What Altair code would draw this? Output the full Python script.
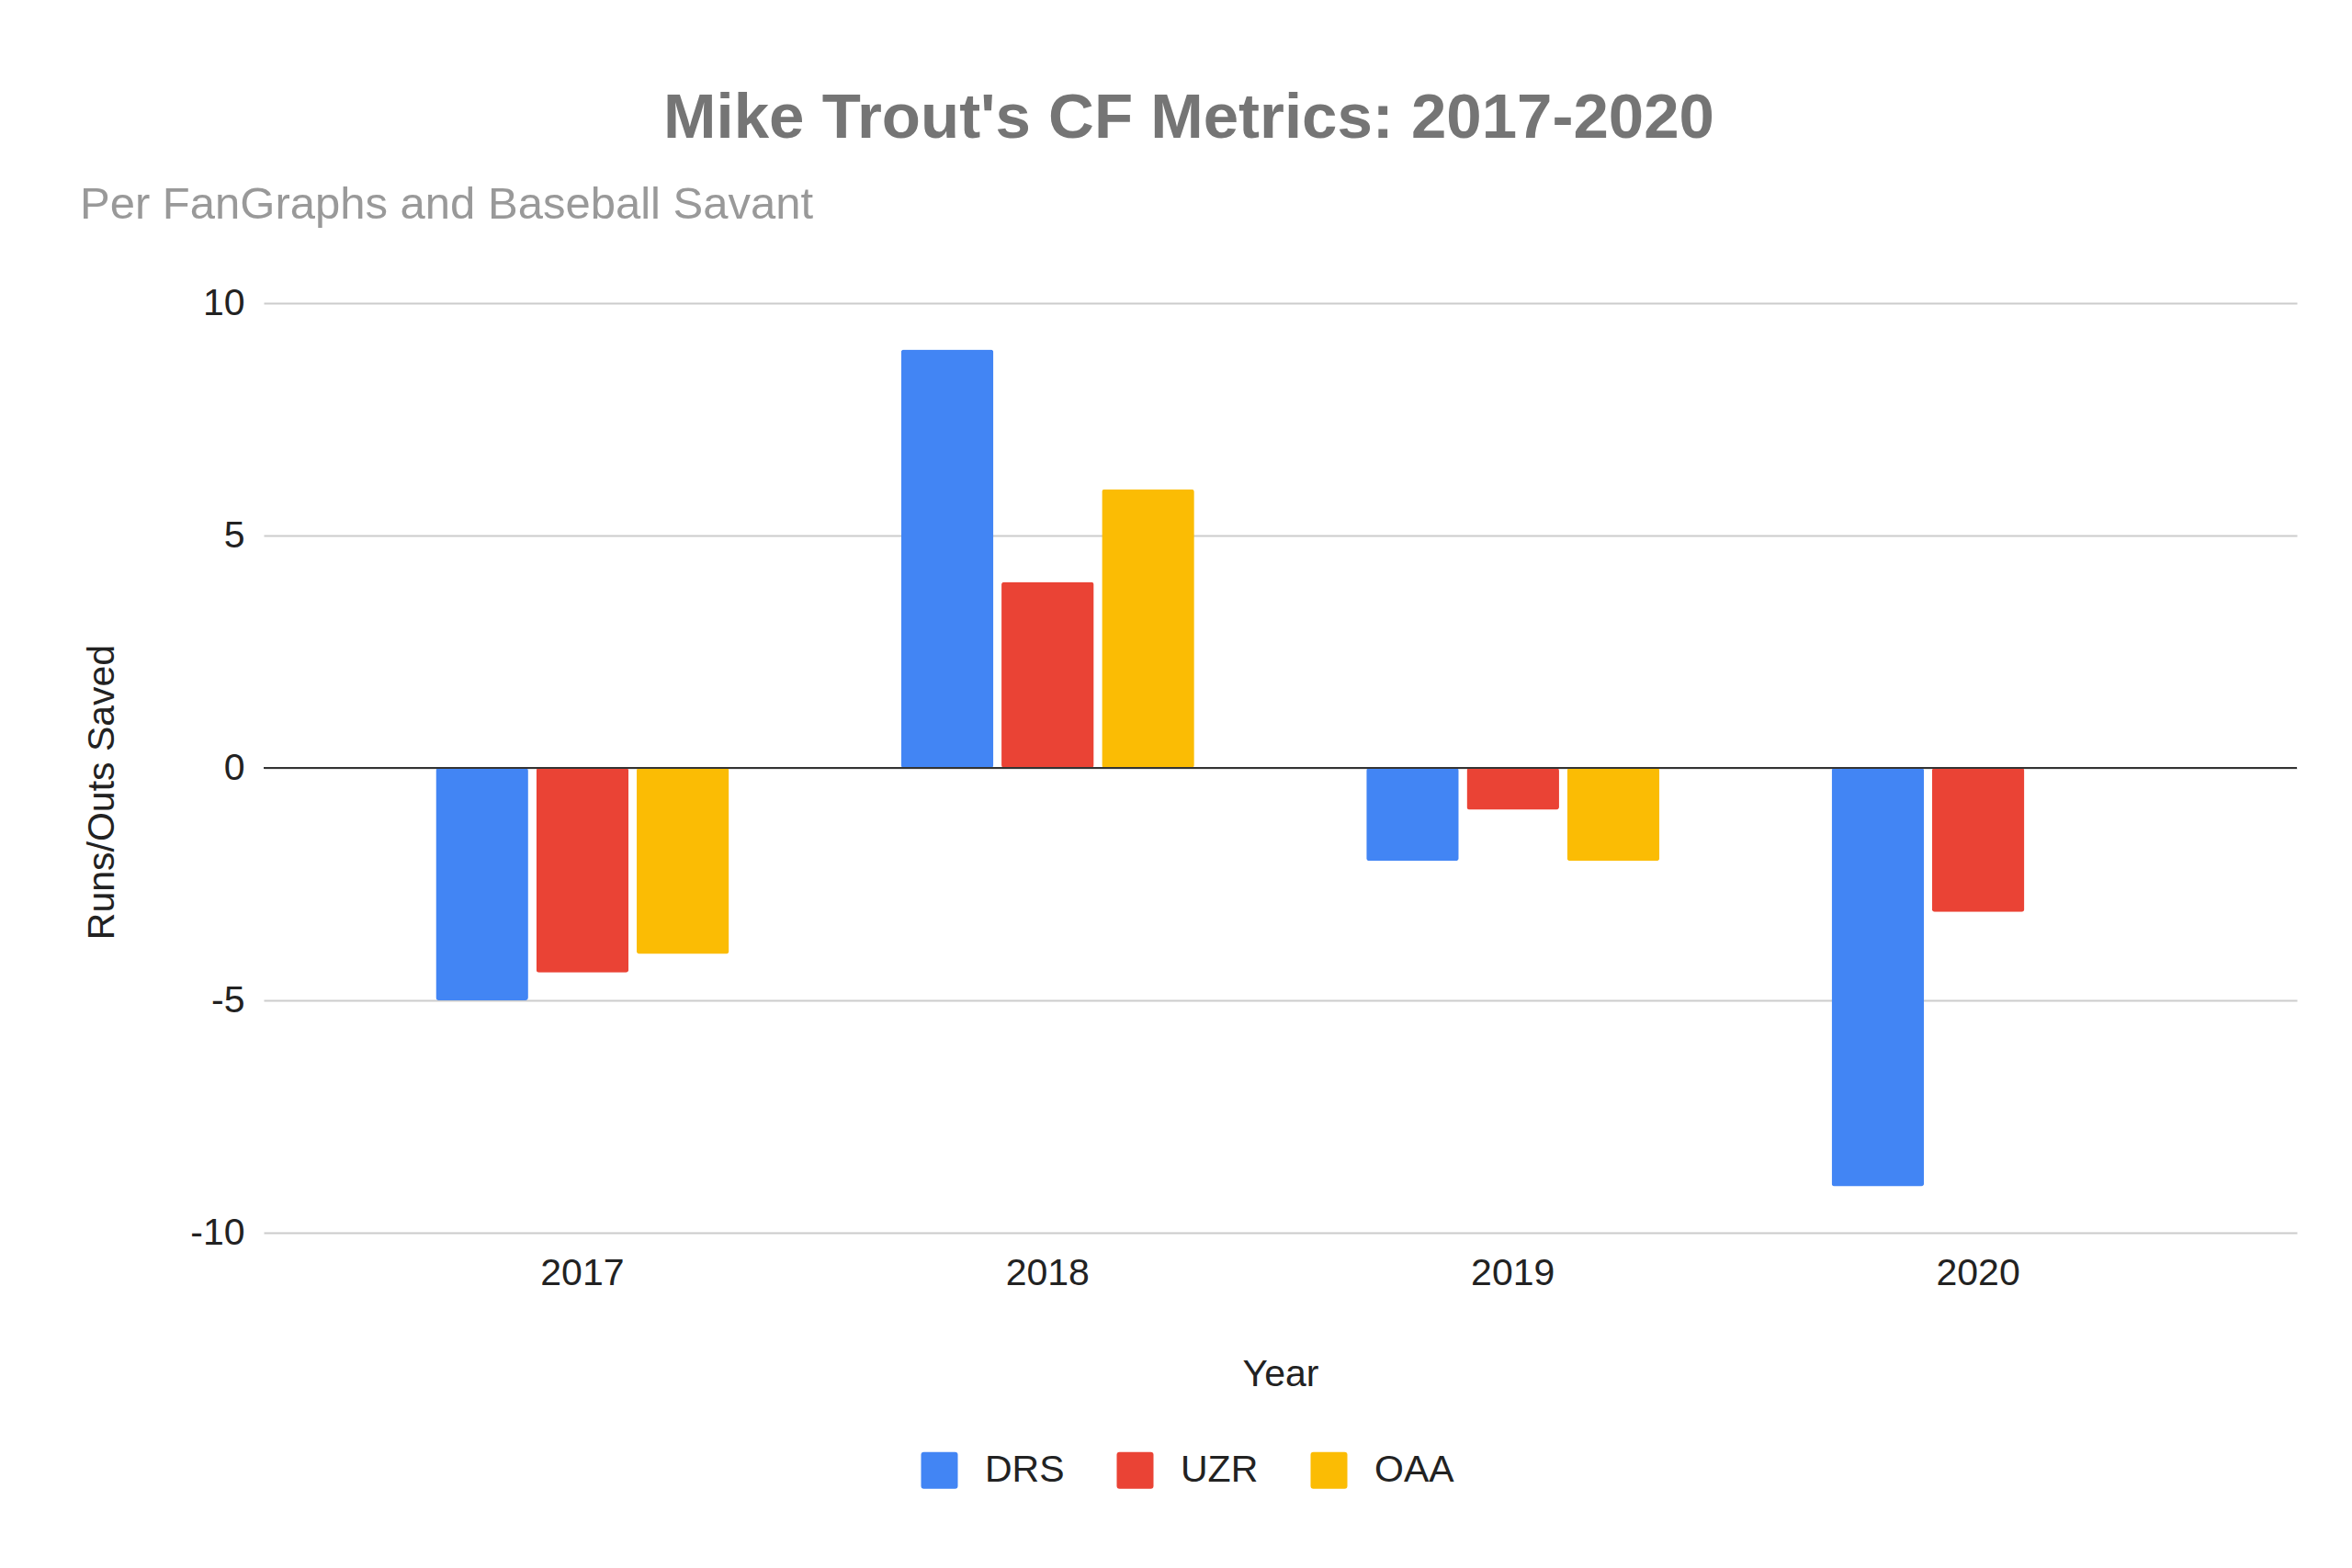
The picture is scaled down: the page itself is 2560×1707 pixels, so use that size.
import altair as alt
import pandas as pd

# ---- data ----
years = ["2017", "2018", "2019", "2020"]
metrics = ["DRS", "UZR", "OAA"]
drs = [-5, 9, -2, -9]
uzr = [-4.4, 4, -0.9, -3.1]
oaa = [-4, 6, -2, None]
colors = ["#4285F4", "#EA4335", "#FBBC04"]
y_ticks = [-10, -5, 0, 5, 10]

title_text = "Mike Trout's CF Metrics: 2017-2020"
subtitle_text = "Per FanGraphs and Baseball Savant"

rows = []
for metric, vals in zip(metrics, [drs, uzr, oaa]):
    for yr, v in zip(years, vals):
        if v is not None:
            rows.append({"Year": yr, "Metric": metric, "Value": v})
df = pd.DataFrame(rows)

FONT = "Liberation Sans"
rounded_square = ("M-0.85,-1 L0.85,-1 Q1,-1 1,-0.85 L1,0.85 Q1,1 0.85,1 "
                  "L-0.85,1 Q-1,1 -1,0.85 L-1,-0.85 Q-1,-1 -0.85,-1 Z")

bars = alt.Chart(df).mark_bar(cornerRadius=3).encode(
    x=alt.X(
        "Year:N", sort=years,
        scale=alt.Scale(paddingInner=0.37, paddingOuter=0.37),
        axis=alt.Axis(
            title="Year", labelAngle=0, labelFontSize=41, labelColor="#222222",
            labelPadding=24, ticks=False, domain=False, labelFont=FONT,
            titleFont=FONT, titleFontSize=41, titleColor="#222222",
            titleFontWeight="normal", titleBaseline="alphabetic", titleY=166,
        ),
    ),
    xOffset=alt.XOffset(
        "Metric:N", sort=metrics,
        scale=alt.Scale(domain=metrics, paddingInner=0.08, paddingOuter=0),
    ),
    y=alt.Y(
        "Value:Q",
        scale=alt.Scale(domain=[-10, 10], nice=False),
        axis=alt.Axis(
            values=y_ticks, labelExpr="'' + datum.value",
            title="Runs/Outs Saved",
            labelFontSize=41, labelColor="#222222", labelPadding=21,
            labelFont=FONT, ticks=False, domain=False,
            gridColor="#cccccc", gridWidth=2,
            titleFont=FONT, titleFontSize=41, titleColor="#222222",
            titleFontWeight="normal", titleAngle=270, titleAlign="center",
            titleBaseline="alphabetic", titleX=-164, titleY=532,
        ),
    ),
    color=alt.Color(
        "Metric:N", sort=metrics,
        scale=alt.Scale(domain=metrics, range=colors),
        legend=alt.Legend(
            title=None, orient="none", legendX=715, legendY=1250,
            direction="horizontal", symbolType=rounded_square,
            symbolSize=1600, symbolStrokeWidth=0, symbolOpacity=1,
            labelFont=FONT, labelFontSize=41, labelColor="#222222",
            labelOffset=29, columnPadding=56,
        ),
    ),
)

zero = alt.Chart(pd.DataFrame({"v": [0]})).mark_rule(
    color="#333333", strokeWidth=2
).encode(y="v:Q")

sub = alt.Chart(pd.DataFrame({"t": [subtitle_text]})).mark_text(
    align="left", baseline="alphabetic", fontSize=49, color="#999999", font=FONT
).encode(x=alt.value(-200), y=alt.value(-92), text="t:N")

chart = alt.layer(bars, zero, sub).properties(
    width=2213,
    height=1012,
    autosize=alt.AutoSizeParams(type="none"),
    padding={"left": 279, "top": 322, "right": 52, "bottom": 357},
    background="white",
    title=alt.TitleParams(
        text=title_text, font=FONT, fontSize=69, fontWeight="bold",
        color="#757575", anchor="middle", frame="bounds",
        baseline="alphabetic", offset=-20,
    ),
).configure_view(stroke=None)

chart.save("out.html", embed_options={"renderer": "svg", "actions": False})
